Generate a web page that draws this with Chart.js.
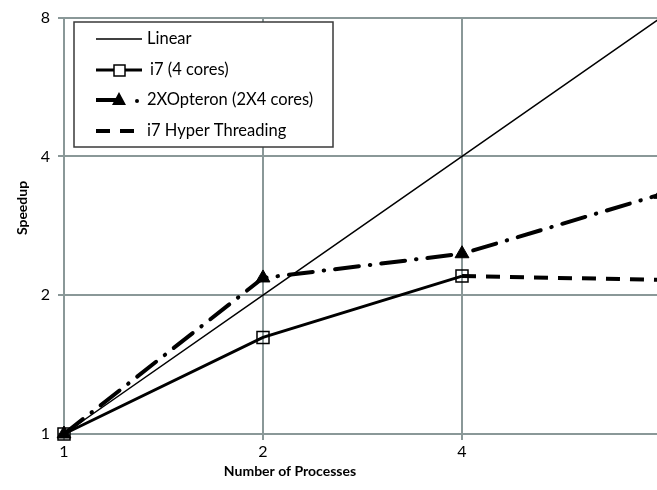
<!DOCTYPE html>
<html lang="en">
<head>
<meta charset="UTF-8">
<title>Speedup</title>
<script src="https://cdn.jsdelivr.net/npm/chart.js"></script>
<style>
	body, html {
		margin: 0;
		padding: 0;
		background: #fff;
		overflow: hidden;
	}
	/* the plot runs past the right edge, as in the original crop */
	.wrap {
		width: 657px;
		height: 490px;
		overflow: hidden;
	}
	.inner {
		width: 700px;
		height: 490px;
	}
</style>
</head>
<body>
<div class="wrap">
	<div class="inner">
		<canvas id="speedupChart" width="700" height="490"></canvas>
	</div>
</div>

<script>
	// data
	const processes = [1, 2, 4, 8];
	const tickValues = [1, 2, 4, 8];
	const linear = [1, 2, 4, 8];
	const i7 = [1, 1.62, 2.2, null];
	const opteron = [1, 2.18, 2.46, 3.31];
	const hyperThreading = [null, null, 2.2, 2.16];

	const seriesNames = ['Linear', 'i7 (4 cores)', '2XOpteron (2X4 cores)', 'i7 Hyper Threading'];

	const GRID = '#8a9898';
	const FONT = 'Lato, "Open Sans", sans-serif';

	function points(values) {
		return processes.map((x, i) => ({x: x, y: values[i]}));
	}

	// legend box and axis titles drawn by hand
	const decorPlugin = {
		id: 'decor',
		afterDatasetsDraw(chart) {
			const ctx = chart.ctx;
			ctx.save();

			// legend
			ctx.fillStyle = '#fff';
			ctx.fillRect(74, 22, 259, 125);
			ctx.strokeStyle = '#3a3a3a';
			ctx.lineWidth = 1.5;
			ctx.strokeRect(74, 22, 259, 125);

			const rows = [39, 70, 100, 131];
			ctx.strokeStyle = '#000';
			ctx.fillStyle = '#000';

			// Linear
			ctx.lineWidth = 1.5;
			ctx.beginPath(); ctx.moveTo(96, rows[0]); ctx.lineTo(142, rows[0]); ctx.stroke();

			// i7
			ctx.lineWidth = 3;
			ctx.beginPath(); ctx.moveTo(96, rows[1]); ctx.lineTo(142, rows[1]); ctx.stroke();
			ctx.fillStyle = '#fff';
			ctx.fillRect(114, rows[1] - 5, 11, 11);
			ctx.lineWidth = 1.5;
			ctx.strokeRect(114, rows[1] - 5, 11, 11);

			// Opteron
			ctx.fillStyle = '#000';
			ctx.lineWidth = 4;
			ctx.beginPath(); ctx.moveTo(96, rows[2]); ctx.lineTo(116, rows[2]); ctx.stroke();
			ctx.beginPath();
			ctx.moveTo(119, rows[2] - 8); ctx.lineTo(126, rows[2] + 5); ctx.lineTo(112, rows[2] + 5);
			ctx.closePath(); ctx.fill();
			ctx.beginPath(); ctx.arc(137, rows[2] + 1, 2, 0, Math.PI * 2); ctx.fill();

			// Hyper Threading
			ctx.lineWidth = 4;
			ctx.beginPath(); ctx.moveTo(96, rows[3]); ctx.lineTo(110, rows[3]); ctx.stroke();
			ctx.beginPath(); ctx.moveTo(120, rows[3]); ctx.lineTo(134, rows[3]); ctx.stroke();

			ctx.font = '16.5px ' + FONT;
			ctx.textBaseline = 'middle';
			ctx.textAlign = 'left';
			ctx.fillText(seriesNames[0], 147, rows[0]);
			ctx.fillText(seriesNames[1], 150, rows[1]);
			ctx.fillText(seriesNames[2], 147, rows[2]);
			ctx.fillText(seriesNames[3], 147, rows[3]);

			// axis titles
			ctx.font = 'bold 14px ' + FONT;
			ctx.textAlign = 'center';
			ctx.fillText('Number of Processes', 290, 471);
			ctx.translate(22, 208);
			ctx.rotate(-Math.PI / 2);
			ctx.fillText('Speedup', 0, 0);

			ctx.restore();
		}
	};

	function fixedTicks(scale) {
		scale.ticks = tickValues.map(v => ({value: v}));
	}

	const data = {
		datasets: [
			{
				label: seriesNames[0],
				data: points(linear),
				borderColor: '#000',
				borderWidth: 1.5,
				pointRadius: 0
			},
			{
				label: seriesNames[1],
				data: points(i7),
				borderColor: '#000',
				borderWidth: 3,
				pointStyle: 'rect',
				pointRadius: 8.5,
				pointBackgroundColor: 'rgba(255,255,255,0)',
				pointBorderColor: '#000',
				pointBorderWidth: 1.5
			},
			{
				label: seriesNames[2],
				data: points(opteron),
				borderColor: '#000',
				borderWidth: 4,
				borderDash: [24, 11, 0.5, 11],
				borderCapStyle: 'round',
				pointStyle: 'triangle',
				pointRadius: 8,
				pointBackgroundColor: '#000',
				pointBorderColor: '#000',
				pointBorderWidth: 1
			},
			{
				label: seriesNames[3],
				data: points(hyperThreading),
				borderColor: '#000',
				borderWidth: 4,
				borderDash: [14, 10],
				pointRadius: 0
			}
		]
	};

	const config = {
		type: 'line',
		data: data,
		plugins: [decorPlugin],
		options: {
			responsive: false,
			animation: false,
			clip: false,
			layout: {
				padding: {top: 14, right: 39, bottom: 0, left: 0}
			},
			elements: {
				line: {tension: 0}
			},
			plugins: {
				legend: {display: false},
				tooltip: {enabled: false}
			},
			scales: {
				x: {
					type: 'logarithmic',
					min: 1,
					max: 8,
					afterBuildTicks: fixedTicks,
					afterFit: s => { s.height = 56; },
					grid: {color: GRID, lineWidth: 2, tickLength: 6},
					border: {color: GRID, width: 2},
					ticks: {
						color: '#000',
						font: {family: FONT, size: 16},
						padding: 2,
						maxRotation: 0,
						callback: v => String(v)
					}
				},
				y: {
					type: 'logarithmic',
					min: 1,
					max: 8,
					afterBuildTicks: fixedTicks,
					afterFit: s => { s.width = 64; },
					grid: {color: GRID, lineWidth: 2, tickLength: 6},
					border: {color: GRID, width: 2},
					ticks: {
						color: '#000',
						font: {family: FONT, size: 16},
						padding: 8,
						callback: v => String(v)
					}
				}
			}
		}
	};

	new Chart(document.getElementById('speedupChart'), config);
</script>
</body>
</html>
